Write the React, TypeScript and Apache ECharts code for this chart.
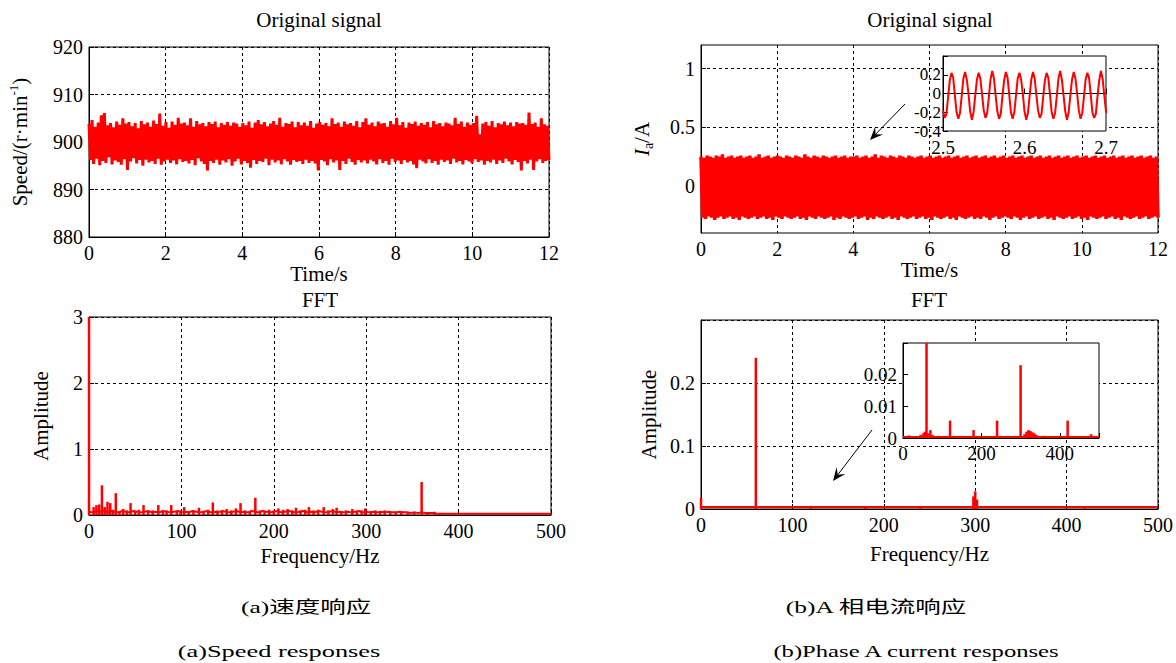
import React, { useEffect, useRef } from 'react';
import * as echarts from 'echarts';

// ---------- data ----------
const speedTimeRange = [0, 12];
const speedSignal = [
  903.8,896.2,904.6,895.4,903.2,896.5,904.1,895.1,905.6,896.0,906.1,895.6,903.5,896.8,904.0,895.3,903.1,896.1,904.3,895.8,
  903.6,895.2,905.0,896.4,903.9,894.1,904.2,895.9,903.3,896.6,904.0,895.5,902.9,896.2,904.4,895.0,903.7,896.3,904.1,895.7,
  903.2,896.0,904.5,895.4,903.8,896.5,906.0,895.2,903.4,895.9,904.2,896.3,903.0,895.6,904.3,896.1,903.6,895.3,905.1,896.4,
  903.9,895.8,904.1,896.0,903.5,895.5,905.0,896.2,903.2,895.1,904.4,896.6,903.7,895.9,904.0,895.4,903.3,894.0,904.2,896.0,
  903.8,895.6,904.3,896.3,903.1,895.2,904.0,896.1,903.6,895.7,904.2,896.4,903.4,895.0,904.1,895.9,903.9,896.5,903.2,895.3,
  904.0,896.0,903.5,895.6,904.3,894.6,903.0,896.2,904.1,895.4,904.6,896.0,903.7,895.8,904.2,896.5,903.3,895.1,903.9,896.3,
  904.4,895.7,903.6,896.1,905.1,895.3,903.2,896.4,904.0,895.9,903.8,895.2,904.3,896.2,903.1,895.8,904.2,896.0,903.5,895.4,
  904.1,896.3,903.4,895.6,904.4,896.0,903.0,895.5,903.9,894.0,904.2,896.2,903.6,895.9,904.0,895.1,903.3,896.4,905.0,895.7,
  903.8,896.1,904.1,894.1,903.2,896.0,904.3,895.4,903.7,896.5,904.0,895.8,903.4,895.2,904.4,896.2,903.1,895.7,904.2,896.1,
  905.0,895.5,903.6,896.3,904.1,895.9,903.3,895.3,904.3,896.4,903.9,895.6,904.0,896.0,903.2,895.2,904.4,896.5,903.7,895.8,
  905.1,896.1,903.5,895.4,904.2,896.2,903.0,895.7,904.1,896.0,903.8,895.3,904.3,894.5,903.4,896.3,904.0,895.9,903.6,895.5,
  904.2,896.4,903.1,895.6,904.4,896.0,903.7,895.2,904.0,896.3,903.3,895.8,904.1,896.1,903.9,895.4,903.5,896.5,905.1,895.7,
  903.8,896.0,904.3,895.3,903.2,896.2,904.1,895.9,903.6,895.5,904.0,896.4,905.5,895.8,901.6,896.1,903.9,895.2,904.2,896.0,
  903.4,895.7,904.4,896.3,903.1,895.4,904.0,896.1,903.7,895.6,904.3,896.5,903.5,895.9,904.1,895.3,903.3,896.2,904.2,895.8,
  903.9,894.0,904.0,896.0,903.6,895.5,906.2,896.3,903.8,894.1,904.1,895.9,903.2,896.4,905.0,895.6,903.7,896.0,903.4,896.2,
];

const currentTimeRange = [0, 12];
const currentSignal = [
  0.25,-0.27,0.24,-0.28,0.26,-0.26,0.25,-0.27,0.24,-0.29,0.26,-0.27,0.25,-0.26,0.27,-0.28,0.24,-0.27,0.25,-0.26,
  0.26,-0.28,0.24,-0.27,0.25,-0.29,0.26,-0.26,0.24,-0.27,0.25,-0.28,0.26,-0.27,0.24,-0.26,0.25,-0.28,0.27,-0.27,
  0.24,-0.26,0.25,-0.28,0.26,-0.27,0.24,-0.29,0.25,-0.26,0.26,-0.27,0.25,-0.28,0.24,-0.26,0.26,-0.27,0.25,-0.28,
  0.24,-0.27,0.26,-0.26,0.25,-0.28,0.24,-0.27,0.27,-0.29,0.25,-0.26,0.24,-0.27,0.26,-0.28,0.25,-0.26,0.24,-0.27,
  0.26,-0.28,0.25,-0.27,0.24,-0.26,0.25,-0.29,0.26,-0.27,0.24,-0.28,0.25,-0.26,0.26,-0.27,0.24,-0.28,0.25,-0.27,
  0.25,-0.26,0.26,-0.28,0.24,-0.27,0.25,-0.26,0.26,-0.29,0.24,-0.27,0.25,-0.28,0.27,-0.26,0.24,-0.27,0.26,-0.28,
  0.25,-0.27,0.24,-0.26,0.26,-0.28,0.25,-0.27,0.24,-0.29,0.26,-0.26,0.25,-0.27,0.24,-0.28,0.26,-0.27,0.25,-0.26,
  0.24,-0.28,0.25,-0.27,0.26,-0.26,0.24,-0.28,0.25,-0.27,0.26,-0.29,0.24,-0.26,0.25,-0.27,0.26,-0.28,0.24,-0.27,
  0.25,-0.26,0.26,-0.28,0.24,-0.27,0.25,-0.29,0.26,-0.26,0.24,-0.27,0.25,-0.28,0.26,-0.27,0.24,-0.26,0.25,-0.28,
  0.26,-0.27,0.24,-0.28,0.25,-0.26,0.26,-0.27,0.24,-0.29,0.25,-0.27,0.26,-0.26,0.24,-0.28,0.25,-0.27,0.26,-0.26,
  0.24,-0.27,0.25,-0.28,0.26,-0.26,0.24,-0.27,0.25,-0.29,0.26,-0.27,0.24,-0.26,0.25,-0.28,0.26,-0.27,0.24,-0.26,
  0.25,-0.28,0.26,-0.27,0.24,-0.26,0.25,-0.28,0.26,-0.27,0.24,-0.29,0.25,-0.26,0.26,-0.27,0.24,-0.28,0.25,-0.27,
  0.26,-0.26,0.24,-0.28,0.25,-0.27,0.26,-0.26,0.24,-0.28,0.25,-0.27,0.26,-0.29,0.24,-0.26,0.25,-0.27,0.26,-0.28,
  0.24,-0.27,0.25,-0.26,0.26,-0.28,0.24,-0.27,0.25,-0.26,0.26,-0.28,0.24,-0.27,0.25,-0.29,0.26,-0.26,0.24,-0.27,
  0.25,-0.28,0.26,-0.27,0.24,-0.26,0.25,-0.28,0.26,-0.27,0.24,-0.26,0.25,-0.28,0.26,-0.27,0.24,-0.26,0.25,-0.27,
];

// zoomed current, 2.5 s .. 2.7 s, step 0.2/96 s
const zoomStart = 2.5;
const zoomStep = 0.2 / 96;
const zoomCurrent = [
  -0.18,
  -0.26,-0.22,-0.04,0.14,0.22,0.17,-0.02,-0.20,
  -0.27,-0.21,-0.03,0.16,0.23,0.15,0.00,-0.19,
  -0.28,-0.20,-0.02,0.15,0.22,0.16,-0.01,-0.18,
  -0.26,-0.21,-0.04,0.15,0.24,0.16,-0.02,-0.19,
  -0.27,-0.22,-0.03,0.14,0.23,0.17,-0.01,-0.20,
  -0.27,-0.20,-0.02,0.16,0.22,0.15,0.00,-0.19,
  -0.28,-0.21,-0.03,0.15,0.23,0.16,-0.02,-0.18,
  -0.26,-0.22,-0.04,0.14,0.22,0.17,-0.01,-0.20,
  -0.27,-0.21,-0.03,0.16,0.24,0.15,-0.02,-0.19,
  -0.28,-0.20,-0.02,0.15,0.23,0.16,0.00,-0.18,
  -0.27,-0.21,-0.04,0.15,0.22,0.17,-0.01,-0.20,
  -0.26,-0.22,-0.03,0.14,0.24,0.16,-0.02,-0.19,
  -0.21,
];

// speed FFT: spectral lines
const speedFftFreq = [0,5,8,11,14,17,20,23,26,29,33,37,41,45,50,54,59,64,69,75,80,84,89,95,99,103,108,113,119,124,129,134,139,144,149,154,159,164,169,174,180,185,190,195,200,205,210,215,220,224,229,234,238,243,248,254,259,264,268,273,278,285,290,295,299,305,310,315,320,326,332,338,345,352,360,366,374];
const speedFftAmp = [3.0,0.12,0.15,0.16,0.45,0.12,0.2,0.18,0.08,0.33,0.06,0.09,0.07,0.18,0.06,0.08,0.15,0.06,0.07,0.15,0.06,0.07,0.15,0.06,0.07,0.12,0.06,0.07,0.11,0.06,0.08,0.19,0.07,0.06,0.09,0.07,0.1,0.18,0.07,0.06,0.26,0.07,0.06,0.08,0.07,0.1,0.08,0.09,0.07,0.11,0.07,0.08,0.12,0.07,0.08,0.12,0.07,0.09,0.11,0.06,0.07,0.09,0.06,0.07,0.1,0.06,0.07,0.06,0.07,0.06,0.05,0.06,0.05,0.05,0.5,0.04,0.05];
// speed FFT: noise floor, every 4 Hz from 0 Hz
const speedFloorStep = 4;
const speedFloor = [
  0.05,0.04,0.06,0.05,0.07,0.04,0.06,0.05,0.04,0.06,
  0.05,0.04,0.06,0.05,0.04,0.05,0.06,0.04,0.05,0.04,
  0.06,0.05,0.04,0.05,0.06,0.04,0.05,0.04,0.06,0.05,
  0.04,0.05,0.06,0.04,0.05,0.04,0.06,0.05,0.04,0.05,
  0.06,0.04,0.05,0.04,0.06,0.05,0.04,0.06,0.05,0.04,
  0.05,0.06,0.04,0.05,0.06,0.05,0.04,0.05,0.06,0.04,
  0.05,0.04,0.06,0.05,0.04,0.05,0.06,0.04,0.05,0.04,
  0.05,0.04,0.05,0.06,0.04,0.05,0.04,0.05,0.04,0.05,
  0.04,0.05,0.04,0.04,0.05,0.04,0.04,0.03,0.04,0.03,
  0.04,0.03,0.03,0.03,0.02,0.02,
];
const speedFloorTailFreq = [500];
const speedFloorTailAmp = [0.02];

// current FFT
const currentFftFreq = [0,60,120,180,240,298,300,302,420];
const currentFftAmp = [0.018,0.24,0.005,0.002,0.004,0.02,0.028,0.015,0.004];
const currentFloorFreq = [0,500];
const currentFloorAmp = [0.003,0.003];

// zoomed current FFT
const zoomFftFreq = [15,30,45,52,56,60,64,70,75,90,120,150,180,210,240,270,300,310,315,320,325,330,335,340,360,390,420,450,480];
const zoomFftAmp = [0.0008,0.0005,0.001,0.0015,0.002,0.24,0.0015,0.0025,0.001,0.0007,0.0055,0.0005,0.0025,0.0005,0.0055,0.0006,0.023,0.0012,0.002,0.0025,0.0022,0.0018,0.0015,0.001,0.0007,0.0006,0.0055,0.0005,0.0012];
const zoomFloorFreq = [0,500];
const zoomFloorAmp = [0.0003,0.0003];

// tick values
const currentYTicks = [0, 0.5, 1];

// ---------- styling ----------
const FONT = 'Liberation Serif';
const RED = '#ff0000';
const dash = { type: [3, 3] as any, color: '#000', width: 1 };

function timeSeries(values: number[], range: number[]) {
  const n = values.length;
  return values.map((v, i) => [range[0] + (i * (range[1] - range[0])) / (n - 1), v]);
}
function pairs(f: number[], a: number[]) {
  return f.map((x, i) => [x, a[i]]);
}

function xAxis(gridIndex: number, min: number, max: number, interval: number, extra: any = {}) {
  return {
    type: 'value', gridIndex, min, max, interval,
    axisLine: { show: true, lineStyle: { color: '#000', width: 1 } },
    axisTick: { show: true, inside: true, length: 5, lineStyle: { color: '#000' } },
    axisLabel: { margin: 6, color: '#000', fontFamily: FONT, fontSize: 20 },
    splitLine: { show: true, lineStyle: dash },
    nameTextStyle: { color: '#000', fontFamily: FONT, fontSize: 21 },
    ...extra,
  };
}
function yAxis(gridIndex: number, min: number, max: number, interval: number, extra: any = {}) {
  return {
    type: 'value', gridIndex, min, max, interval,
    axisLine: { show: true, lineStyle: { color: '#000', width: 1 } },
    axisTick: { show: true, inside: true, length: 5, lineStyle: { color: '#000' } },
    axisLabel: { margin: 6, color: '#000', fontFamily: FONT, fontSize: 20 },
    splitLine: { show: true, lineStyle: dash },
    nameLocation: 'middle',
    nameRotate: 90,
    nameTextStyle: { color: '#000', fontFamily: FONT, fontSize: 21 },
    ...extra,
  };
}

function txt(text: string, x: number, y: number, size: number, scaleX = 1) {
  return {
    type: 'text', x, y, z: 100, scaleX,
    style: { text, fill: '#000', font: `${size}px "Liberation Serif", "Noto Sans CJK SC", serif`, align: 'center', verticalAlign: 'middle' },
  };
}

function arrow(x1: number, y1: number, x2: number, y2: number) {
  const dx = x2 - x1, dy = y2 - y1;
  const L = Math.hypot(dx, dy);
  const ux = dx / L, uy = dy / L;
  const px = -uy, py = ux;
  const head = 13, half = 5.5, notch = 8;
  const bx = x2 - head * ux, by = y2 - head * uy;
  return [
    { type: 'line', z: 100, shape: { x1, y1, x2: x2 - notch * ux, y2: y2 - notch * uy }, style: { stroke: '#000', lineWidth: 1 } },
    {
      type: 'polygon', z: 100,
      shape: { points: [[x2, y2], [bx + half * px, by + half * py], [x2 - notch * ux, y2 - notch * uy], [bx - half * px, by - half * py]] },
      style: { fill: '#000' },
    },
  ];
}

const insetLabel = { color: '#000', fontFamily: FONT, fontSize: 19 };

const option: any = {
  animation: false,
  backgroundColor: '#fff',
  textStyle: { fontFamily: FONT },
  grid: [
    { left: 89, top: 47, width: 460, height: 190, show: true, borderColor: '#000', borderWidth: 1, backgroundColor: 'transparent' },
    { left: 701, top: 45, width: 457, height: 188, show: true, borderColor: '#000', borderWidth: 1, backgroundColor: 'transparent' },
    { left: 89, top: 317, width: 462, height: 198, show: true, borderColor: '#000', borderWidth: 1, backgroundColor: 'transparent' },
    { left: 701, top: 320, width: 457, height: 189, show: true, borderColor: '#000', borderWidth: 1, backgroundColor: 'transparent' },
    { left: 943, top: 56, width: 163, height: 75, show: true, borderColor: '#000', borderWidth: 1, backgroundColor: '#fff', z: 5 },
    { left: 903, top: 343, width: 196, height: 95, show: true, borderColor: '#000', borderWidth: 1, backgroundColor: '#fff', z: 5 },
  ],
  xAxis: [
    xAxis(0, 0, 12, 2, { name: 'Time/s', nameLocation: 'middle', nameGap: 22 }),
    xAxis(1, 0, 12, 2, { name: 'Time/s', nameLocation: 'middle', nameGap: 24 }),
    xAxis(2, 0, 500, 100, { name: 'Frequency/Hz', nameLocation: 'middle', nameGap: 30 }),
    xAxis(3, 0, 500, 100, { name: 'Frequency/Hz', nameLocation: 'middle', nameGap: 34 }),
    xAxis(4, 2.5, 2.7, 0.1, { z: 6, splitLine: { show: false }, axisLabel: { ...insetLabel, margin: 7 } }),
    xAxis(5, 0, 500, 200, {
      z: 6, splitLine: { show: false },
      axisLabel: { ...insetLabel, margin: 6, formatter: (v: number) => (v > 450 ? '' : String(v)) },
    }),
  ],
  yAxis: [
    yAxis(0, 880, 920, 10, {
      name: '{t|Speed/(r·min}{sup|-1}{t|)}',
      nameGap: 56,
      nameTextStyle: {
        color: '#000', fontFamily: FONT, fontSize: 21,
        rich: {
          t: { fontFamily: FONT, fontSize: 21, color: '#000', lineHeight: 26 },
          sup: { fontFamily: FONT, fontSize: 13, color: '#000', verticalAlign: 'top', lineHeight: 26 },
        },
      },
    }),
    yAxis(1, -0.4, 1.2, 0.1, {
      name: '{it|I}{sub|a}{t|/A}',
      nameGap: 46,
      axisTick: { show: true, inside: true, length: 5, lineStyle: { color: '#000' }, customValues: currentYTicks },
      axisLabel: { margin: 6, color: '#000', fontFamily: FONT, fontSize: 20, customValues: currentYTicks },
      nameTextStyle: {
        color: '#000', fontFamily: FONT, fontSize: 21,
        rich: {
          it: { fontFamily: FONT, fontSize: 21, fontStyle: 'italic', color: '#000', lineHeight: 26 },
          sub: { fontFamily: FONT, fontSize: 14, color: '#000', verticalAlign: 'bottom', lineHeight: 26 },
          t: { fontFamily: FONT, fontSize: 21, color: '#000', lineHeight: 26 },
        },
      },
    }),
    yAxis(2, 0, 3, 1, { name: 'Amplitude', nameGap: 38 }),
    yAxis(3, 0, 0.3, 0.1, {
      name: 'Amplitude', nameGap: 42,
      axisLabel: { margin: 6, color: '#000', fontFamily: FONT, fontSize: 20, formatter: (v: number) => (v > 0.25 ? '' : String(+v.toFixed(2))) },
    }),
    yAxis(4, -0.4, 0.4, 0.2, {
      z: 6, splitLine: { show: false },
      axisLabel: {
        ...insetLabel, fontSize: 17, margin: 2, showMinLabel: true,
        formatter: (v: number) => (v > 0.3 ? '' : String(+v.toFixed(2))),
      },
    }),
    yAxis(5, 0, 0.03, 0.01, {
      z: 6, splitLine: { show: false },
      axisLabel: { ...insetLabel, margin: 6, showMinLabel: true, formatter: (v: number) => (v > 0.025 ? '' : String(+v.toFixed(3))) },
    }),
  ],
  series: [
    {
      type: 'line', xAxisIndex: 0, yAxisIndex: 0, showSymbol: false, symbol: 'none',
      lineStyle: { color: RED, width: 3 }, data: timeSeries(speedSignal, speedTimeRange), z: 2,
    },
    {
      type: 'line', xAxisIndex: 1, yAxisIndex: 1, showSymbol: false, symbol: 'none',
      lineStyle: { color: RED, width: 3.5 }, data: timeSeries(currentSignal, currentTimeRange), z: 2,
    },
    {
      type: 'line', xAxisIndex: 2, yAxisIndex: 2, showSymbol: false, symbol: 'none',
      lineStyle: { color: RED, width: 2 },
      data: speedFloor.map((v, i) => [i * speedFloorStep, v]).concat(pairs(speedFloorTailFreq, speedFloorTailAmp)), z: 2,
    },
    {
      type: 'bar', xAxisIndex: 2, yAxisIndex: 2, barWidth: 2.5,
      itemStyle: { color: RED }, data: pairs(speedFftFreq, speedFftAmp), z: 2,
    },
    {
      type: 'line', xAxisIndex: 3, yAxisIndex: 3, showSymbol: false, symbol: 'none',
      lineStyle: { color: RED, width: 2 }, data: pairs(currentFloorFreq, currentFloorAmp), z: 2,
    },
    {
      type: 'bar', xAxisIndex: 3, yAxisIndex: 3, barWidth: 2.5,
      itemStyle: { color: RED }, data: pairs(currentFftFreq, currentFftAmp), z: 2,
    },
    {
      type: 'line', xAxisIndex: 4, yAxisIndex: 4, showSymbol: false, symbol: 'none',
      lineStyle: { color: RED, width: 2 },
      data: zoomCurrent.map((v, i) => [zoomStart + i * zoomStep, v]), z: 7,
    },
    {
      type: 'line', xAxisIndex: 5, yAxisIndex: 5, showSymbol: false, symbol: 'none',
      lineStyle: { color: RED, width: 2 }, data: pairs(zoomFloorFreq, zoomFloorAmp), z: 7,
    },
    {
      type: 'bar', xAxisIndex: 5, yAxisIndex: 5, barWidth: 2.5,
      itemStyle: { color: RED }, data: pairs(zoomFftFreq, zoomFftAmp), z: 7,
    },
  ],
  graphic: [
    txt('Original signal', 319, 20, 21),
    txt('Original signal', 930, 20, 21),
    txt('FFT', 320, 300, 21),
    txt('FFT', 929, 300, 21),
    txt('(a)速度响应', 306, 608, 17, 1.5),
    txt('(a)Speed responses', 279, 651, 17, 1.55),
    txt('(b)A 相电流响应', 876, 608, 17, 1.5),
    txt('(b)Phase A current responses', 916, 651, 17, 1.45),
    ...arrow(905, 104, 870, 140),
    ...arrow(872, 430, 833, 481),
  ],
};

export default function App() {
  const ref = useRef<HTMLDivElement>(null);
  useEffect(() => {
    if (!ref.current) return;
    const chart = echarts.init(ref.current, null, { renderer: 'svg' });
    chart.setOption(option);
    return () => chart.dispose();
  }, []);
  return (
    <div
      ref={ref}
      style={{ position: 'absolute', left: 0, top: 0, width: 1176, height: 663, background: '#fff' }}
    />
  );
}
